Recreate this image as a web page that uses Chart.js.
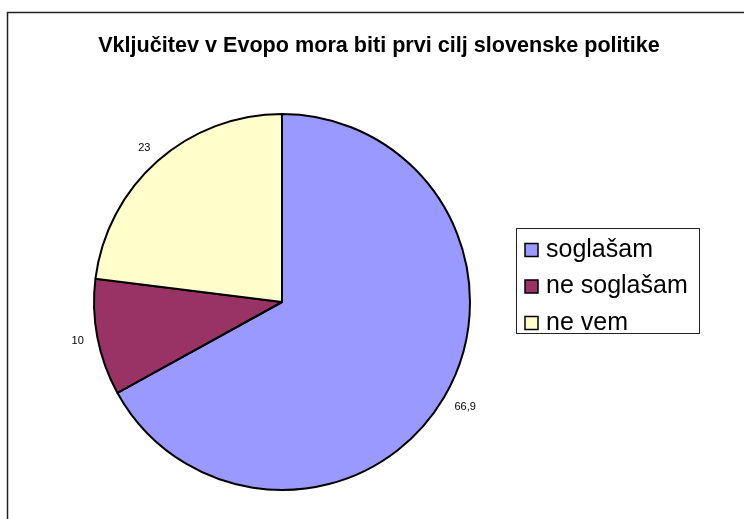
<!DOCTYPE html>
<html>
<head>
<meta charset="utf-8">
<script src="https://cdn.jsdelivr.net/npm/chart.js@4/dist/chart.umd.min.js"></script>
<style>
  html, body { margin: 0; padding: 0; background: #fff; }
  #wrap { width: 744px; height: 519px; position: relative; }
</style>
</head>
<body>
<div id="wrap"><canvas id="pieChart"></canvas></div>
<script>
const chartTitle = 'Vključitev v Evopo mora biti prvi cilj slovenske politike';
const categories = ['soglašam', 'ne soglašam', 'ne vem'];
const values = [66.9, 10, 23];
const sliceColors = ['#9999FF', '#993366', '#FFFFCC'];

const FONT = 'Arial, "Liberation Sans", sans-serif';

// frame + title, drawn before the pie
const framePlugin = {
    id: 'frame',
    beforeDraw(chart) {
        const ctx = chart.ctx;
        ctx.save();
        ctx.fillStyle = '#fff';
        ctx.fillRect(0, 0, chart.width, chart.height);
        ctx.strokeStyle = '#222';
        ctx.lineWidth = 1.5;
        ctx.strokeRect(7.5, 12.5, chart.width + 20, chart.height + 20);

        ctx.fillStyle = '#000';
        ctx.font = 'bold 21.6px ' + FONT;
        ctx.textAlign = 'center';
        ctx.textBaseline = 'middle';
        ctx.fillText(chartTitle, 379, 46);
        ctx.restore();
    }
};

// value labels outside the slices, Excel style
const valueLabelPlugin = {
    id: 'valueLabels',
    afterDatasetsDraw(chart) {
        const ctx = chart.ctx;
        const meta = chart.getDatasetMeta(0);
        ctx.save();
        ctx.font = '11px ' + FONT;
        ctx.fillStyle = '#000';
        ctx.textAlign = 'center';
        ctx.textBaseline = 'middle';
        meta.data.forEach((arc, i) => {
            const p = arc.getProps(['x', 'y', 'startAngle', 'endAngle', 'outerRadius'], true);
            const mid = (p.startAngle + p.endAngle) / 2;
            const text = String(values[i]).replace('.', ',');
            const w = ctx.measureText(text).width;
            const r = p.outerRadius + 14;
            const cx = p.x + Math.cos(mid) * r + Math.cos(mid) * w / 2;
            const cy = p.y + Math.sin(mid) * r + Math.sin(mid) * 4;
            ctx.fillText(text, cx, cy);
        });
        ctx.restore();
    }
};

// boxed legend on the right
const boxLegendPlugin = {
    id: 'boxLegend',
    afterDraw(chart) {
        const ctx = chart.ctx;
        const left = 516.5, top = 228.5, width = 183, height = 105;
        const rowH = 36.5, firstRow = 250;
        ctx.save();
        ctx.strokeStyle = '#222';
        ctx.lineWidth = 1;
        ctx.strokeRect(left, top, width, height);
        ctx.font = '25px ' + FONT;
        ctx.textBaseline = 'middle';
        ctx.textAlign = 'left';
        categories.forEach((label, i) => {
            const y = firstRow + i * rowH;
            ctx.fillStyle = sliceColors[i];
            ctx.fillRect(525, y - 6.5, 13, 13);
            ctx.strokeStyle = '#000';
            ctx.lineWidth = 1.5;
            ctx.strokeRect(525, y - 6.5, 13, 13);
            ctx.fillStyle = '#000';
            ctx.fillText(label, 546, y);
        });
        ctx.restore();
    }
};

new Chart(document.getElementById('pieChart'), {
    type: 'pie',
    data: {
        labels: categories,
        datasets: [{
            data: values,
            backgroundColor: sliceColors,
            borderColor: '#000',
            borderWidth: 2
        }]
    },
    options: {
        responsive: true,
        maintainAspectRatio: false,
        animation: false,
        events: [],
        layout: {
            padding: { left: 93, right: 273, top: 113, bottom: 28 }
        },
        plugins: {
            legend: { display: false },
            title: { display: false },
            tooltip: { enabled: false }
        }
    },
    plugins: [framePlugin, valueLabelPlugin, boxLegendPlugin]
});
</script>
</body>
</html>
